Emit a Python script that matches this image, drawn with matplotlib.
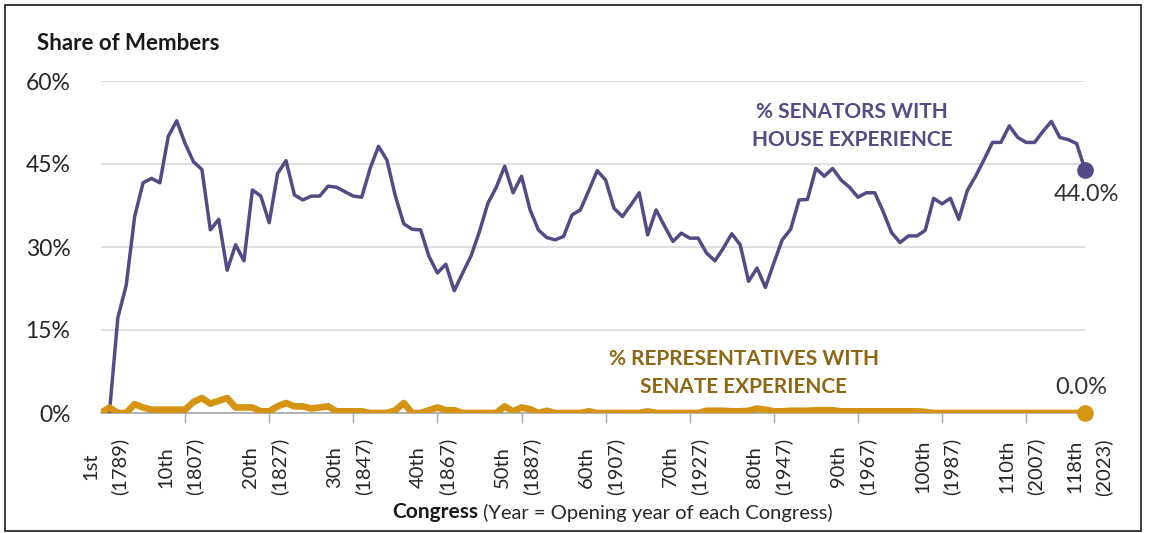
import numpy as np
import matplotlib
matplotlib.use("Agg")
import matplotlib.pyplot as plt
import matplotlib.transforms as mtransforms
from matplotlib.patches import Rectangle

# Congress numbers 1..118
congress = list(range(1, 119))

# % of senators with prior House experience
senators_house = [
    0.0, 0.0, 17.2, 23.1, 35.5, 41.6, 42.4, 41.6, 50.0, 52.8,
    48.7, 45.4, 44.0, 33.1, 35.0, 25.8, 30.4, 27.5, 40.3, 39.2,
    34.4, 43.3, 45.6, 39.4, 38.5, 39.2, 39.2, 41.0, 40.8, 40.0,
    39.2, 39.0, 44.2, 48.2, 45.7, 39.2, 34.2, 33.2, 33.1, 28.3,
    25.3, 26.9, 22.1, 25.3, 28.4, 32.8, 37.9, 40.8, 44.6, 39.8,
    42.8, 36.8, 33.1, 31.7, 31.3, 31.9, 35.8, 36.7, 40.2, 43.8,
    42.1, 37.0, 35.5, 37.6, 39.8, 32.2, 36.7, 33.8, 31.0, 32.5,
    31.6, 31.6, 28.9, 27.5, 29.8, 32.4, 30.4, 23.8, 26.2, 22.7,
    27.1, 31.3, 33.2, 38.5, 38.6, 44.2, 42.8, 44.2, 42.1, 40.8,
    39.0, 39.8, 39.8, 36.4, 32.6, 30.8, 32.0, 32.0, 33.0, 38.8,
    37.8, 38.8, 35.0, 40.2, 42.8, 45.8, 48.9, 48.9, 51.9, 49.8,
    48.9, 48.9, 50.9, 52.7, 49.8, 49.4, 48.7, 44.0,
]

# % of representatives with prior Senate experience
reps_senate = [
    0.0, 1.0, 0.0, 0.0, 1.6, 1.0, 0.6, 0.6, 0.6, 0.6,
    0.6, 2.0, 2.7, 1.7, 2.2, 2.7, 1.0, 1.0, 1.0, 0.3,
    0.3, 1.2, 1.8, 1.2, 1.2, 0.8, 1.0, 1.2, 0.3, 0.3,
    0.3, 0.3, 0.0, 0.0, 0.0, 0.5, 1.8, 0.0, 0.0, 0.5,
    1.0, 0.5, 0.5, 0.0, 0.0, 0.0, 0.0, 0.0, 1.2, 0.3,
    1.0, 0.7, 0.0, 0.4, 0.0, 0.0, 0.0, 0.0, 0.3, 0.0,
    0.0, 0.0, 0.0, 0.0, 0.0, 0.3, 0.0, 0.0, 0.0, 0.0,
    0.0, 0.0, 0.4, 0.4, 0.4, 0.3, 0.3, 0.4, 0.8, 0.6,
    0.3, 0.3, 0.4, 0.4, 0.4, 0.5, 0.5, 0.5, 0.3, 0.3,
    0.3, 0.3, 0.3, 0.3, 0.3, 0.3, 0.3, 0.3, 0.2, 0.0,
    0.0, 0.0, 0.0, 0.0, 0.0, 0.0, 0.0, 0.0, 0.0, 0.0,
    0.0, 0.0, 0.0, 0.0, 0.0, 0.0, 0.0, 0.0,
]

label_congress = [1, 10, 20, 30, 40, 50, 60, 70, 80, 90, 100, 110, 118]
label_text = ["1st\n(1789)", "10th\n(1807)", "20th\n(1827)", "30th\n(1847)",
              "40th\n(1867)", "50th\n(1887)", "60th\n(1907)", "70th\n(1927)",
              "80th\n(1947)", "90th\n(1967)", "100th\n(1987)", "110th\n(2007)",
              "118th\n(2023)"]
tick_marks = [1, 11, 21, 31, 41, 51, 61, 71, 81, 91, 101, 111]
y_ticks = [0, 15, 30, 45, 60]

purple = "#554a85"
gold = "#d59412"
gold_text = "#8d6714"

plt.rcParams['font.family'] = ['Lato', 'DejaVu Sans']

W, H = 1154, 533
fig = plt.figure(figsize=(W / 100, H / 100), dpi=100)
ax = fig.add_axes([101 / W, 1 - 413 / H, (1085 - 101) / W, (413 - 81) / H])

ax.plot(congress, senators_house, color=purple, lw=2.5, zorder=3, solid_joinstyle='round')
ax.plot(congress, reps_senate, color=gold, lw=4.8, zorder=4, solid_joinstyle='round')
ax.plot(congress[-1], senators_house[-1], 'o', color=purple, ms=11, zorder=5, clip_on=False)
ax.plot(congress[-1], reps_senate[-1], 'o', color=gold, ms=11, zorder=5, clip_on=False)

ax.set_xlim(1, 118)
ax.set_ylim(0, 60)
ax.set_yticks(y_ticks)
ax.set_yticklabels([f"{v}%" for v in y_ticks])
ax.tick_params(axis='y', length=0, pad=22, labelsize=16.5, labelcolor='#262626')
ax.yaxis.grid(True, color='#d9d9d9', lw=1.2)
ax.set_axisbelow(True)

ax.set_xticks(label_congress)
ax.set_xticklabels(label_text, rotation=90, ha='center', va='top',
                   multialignment='center', linespacing=1.75)
ax.tick_params(axis='x', which='major', length=0, pad=18, labelsize=14.5, labelcolor='#262626')
# nudge the two-line labels a little to the right, as in the original
shift = mtransforms.ScaledTranslation(4 / 100, 0, fig.dpi_scale_trans)
for lbl in ax.get_xticklabels():
    lbl.set_transform(lbl.get_transform() + shift)
ax.set_xticks(tick_marks, minor=True)
ax.tick_params(axis='x', which='minor', length=7, width=1, color='#a6a6a6')

for s in ['top', 'right', 'left']:
    ax.spines[s].set_visible(False)
ax.spines['bottom'].set_color('#a6a6a6')
ax.spines['bottom'].set_linewidth(1.2)

# series labels
ax.text(90.3, 51.9, "% SENATORS WITH\nHOUSE EXPERIENCE", color=purple,
        fontsize=15, fontweight='bold', ha='center', va='center', linespacing=1.5)
ax.text(77.4, 7.3, "% REPRESENTATIVES WITH\nSENATE EXPERIENCE", color=gold_text,
        fontsize=15, fontweight='bold', ha='center', va='center', linespacing=1.5)

# end values
ax.annotate(f"{senators_house[-1]:.1f}%", (congress[-1], senators_house[-1]),
            xytext=(1, -18), textcoords='offset points', ha='center', va='center',
            fontsize=17, color='#333333', annotation_clip=False)
ax.annotate(f"{reps_senate[-1]:.1f}%", (congress[-1], reps_senate[-1]),
            xytext=(-3, 18), textcoords='offset points', ha='center', va='center',
            fontsize=17, color='#333333', annotation_clip=False)

fig.text(37 / W, 1 - 43 / H, "Share of Members", fontsize=16, fontweight='bold',
         color='#1a1a1a', ha='left', va='center')

t1 = fig.text(392 / W, 1 - 512 / H, "Congress", fontsize=15, fontweight='bold',
              color='#1a1a1a', ha='left', va='center')
ax.annotate(" (Year = Opening year of each Congress)", xy=(1, 0), xycoords=t1,
            ha='left', va='bottom', fontsize=14.5, color='#262626')

fig.patches.append(Rectangle((5 / W, 2 / H), 1136 / W, 526 / H, transform=fig.transFigure,
                             fill=False, edgecolor='#1a1a1a', lw=1.2))

fig.savefig("out.png", dpi=100)
